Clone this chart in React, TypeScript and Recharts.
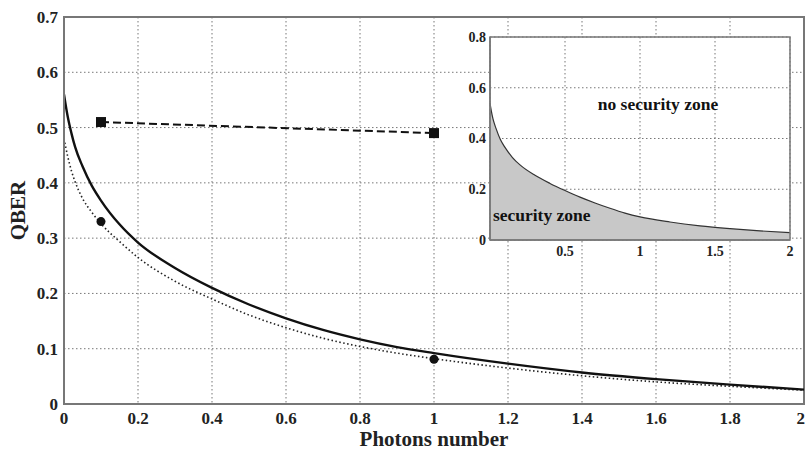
import React from 'react';
import {
  ComposedChart, Line, Scatter, XAxis, YAxis, CartesianGrid, ReferenceArea, ReferenceDot, AreaChart, Area,
} from 'recharts';

// Main chart: photons number (x) vs QBER
const photons = [0, 0.01, 0.02, 0.03, 0.05, 0.075, 0.1, 0.15, 0.2, 0.3, 0.4, 0.5, 0.6, 0.7, 0.8, 0.9, 1.0, 1.2, 1.4, 1.6, 1.8, 2.0];
const qberSolid = [0.56, 0.52, 0.49, 0.465, 0.43, 0.395, 0.368, 0.325, 0.292, 0.246, 0.21, 0.18, 0.155, 0.134, 0.117, 0.103, 0.092, 0.073, 0.057, 0.045, 0.035, 0.026];
const qberDotted = [0.48, 0.448, 0.422, 0.402, 0.372, 0.347, 0.326, 0.294, 0.265, 0.222, 0.19, 0.161, 0.138, 0.119, 0.104, 0.092, 0.082, 0.065, 0.051, 0.04, 0.032, 0.025];

const squareX = [0.1, 1];
const squareY = [0.51, 0.49];
const circleX = [0.1, 1];
const circleY = [0.33, 0.081];

const xTicks = [0, 0.2, 0.4, 0.6, 0.8, 1, 1.2, 1.4, 1.6, 1.8, 2];
const yTicks = [0, 0.1, 0.2, 0.3, 0.4, 0.5, 0.6, 0.7];

// Inset: security zone
const insetX = [0, 0.01, 0.02, 0.04, 0.07, 0.1, 0.15, 0.2, 0.3, 0.4, 0.5, 0.6, 0.7, 0.8, 0.9, 1.0, 1.2, 1.4, 1.6, 1.8, 2.0];
const insetY = [0.54, 0.505, 0.477, 0.44, 0.395, 0.365, 0.325, 0.296, 0.255, 0.223, 0.195, 0.169, 0.146, 0.125, 0.106, 0.091, 0.071, 0.056, 0.045, 0.036, 0.029];
const insetXTicks = [0.5, 1, 1.5, 2];
const insetYTicks = [0, 0.2, 0.4, 0.6, 0.8];

const mainData = photons.map((x, i) => ({ x, solid: qberSolid[i], dotted: qberDotted[i] }));
const squareData = squareX.map((x, i) => ({ x, y: squareY[i] }));
const circleData = circleX.map((x, i) => ({ x, y: circleY[i] }));
const insetData = insetX.map((x, i) => ({ x, y: insetY[i] }));

const FONT = '"Liberation Serif", "Times New Roman", serif';
const tickStyle = { fontFamily: FONT, fontWeight: 700, fontSize: 17, fill: '#222' };
const insetTickStyle = { fontFamily: FONT, fontWeight: 700, fontSize: 14, fill: '#222' };

const SquareDot = (props: any) => {
  const { cx, cy } = props;
  if (cx == null || cy == null) return null;
  return <rect x={cx - 5} y={cy - 5} width={10} height={10} fill="#111" />;
};

const CircleShape = (props: any) => {
  const { cx, cy } = props;
  if (cx == null || cy == null) return null;
  return <circle cx={cx} cy={cy} r={4.5} fill="#111" />;
};

export default function App() {
  return (
    <div style={{ position: 'absolute', left: 0, top: 0, width: 805, height: 450, background: '#fff' }}>
      <div style={{ position: 'absolute', left: 0, top: 0 }}>
        <ComposedChart width={805} height={450} data={mainData} margin={{ top: 17, right: 1, bottom: 0, left: 0 }}>
          <CartesianGrid stroke="#777" strokeDasharray="1.5 2.5" strokeWidth={1} />
          <XAxis
            dataKey="x"
            type="number"
            domain={[0, 2]}
            ticks={xTicks}
            height={46}
            tick={tickStyle}
            tickLine={false}
            axisLine={{ stroke: '#777', strokeWidth: 2 }}
            tickSize={6}
            tickMargin={2}
            allowDataOverflow
            label={{ value: 'Photons number', position: 'insideBottom', offset: 4, style: { fontFamily: FONT, fontWeight: 700, fontSize: 21, fill: '#222' } }}
          />
          <YAxis
            type="number"
            domain={[0, 0.7]}
            ticks={yTicks}
            width={64}
            tick={tickStyle}
            tickLine={false}
            axisLine={{ stroke: '#777', strokeWidth: 2 }}
            tickSize={4}
            tickMargin={2}
            allowDataOverflow
            label={{ value: 'QBER', angle: -90, position: 'center', dx: -14, style: { fontFamily: FONT, fontWeight: 700, fontSize: 21, fill: '#222' } }}
          />
          <ReferenceArea x1={0} x2={2} y1={0} y2={0.7} fill="none" stroke="#777" strokeWidth={2} />
          <Line dataKey="dotted" type="monotone" stroke="#222" strokeWidth={1.6} strokeDasharray="1.5 2.5" dot={false} isAnimationActive={false} />
          <Line dataKey="solid" type="monotone" stroke="#111" strokeWidth={2.4} dot={false} isAnimationActive={false} />
          <Line data={squareData} dataKey="y" type="linear" stroke="#111" strokeWidth={2} strokeDasharray="8 4" dot={<SquareDot />} isAnimationActive={false} />
          <Scatter data={circleData} dataKey="y" shape={<CircleShape />} isAnimationActive={false} />
        </ComposedChart>
      </div>
      <div style={{ position: 'absolute', left: 450, top: 20 }}>
        <AreaChart width={355} height={250} data={insetData} margin={{ top: 17, right: 15, bottom: 5, left: 0 }}>
          <CartesianGrid stroke="#777" strokeDasharray="1.5 2.5" fill="#fff" fillOpacity={1} />
          <XAxis
            dataKey="x"
            type="number"
            domain={[0, 2]}
            ticks={insetXTicks}
            height={25}
            tick={insetTickStyle}
            tickLine={false}
            axisLine={{ stroke: '#777', strokeWidth: 1.5 }}
            tickSize={4}
            tickMargin={2}
          />
          <YAxis
            type="number"
            domain={[0, 0.8]}
            ticks={insetYTicks}
            width={40}
            tick={insetTickStyle}
            tickLine={false}
            axisLine={{ stroke: '#777', strokeWidth: 1.5 }}
            tickSize={2}
            tickMargin={2}
          />
          <Area dataKey="y" type="monotone" stroke="#333" strokeWidth={1.2} fill="#c8c8c8" fillOpacity={1} isAnimationActive={false} />
          <ReferenceArea x1={0} x2={2} y1={0} y2={0.8} fill="none" stroke="#777" strokeWidth={1.5} />
          <ReferenceDot x={1.12} y={0.535} r={0} fill="none" stroke="none"
            label={{ value: 'no security zone', position: 'center', style: { fontFamily: FONT, fontWeight: 700, fontSize: 17.5, fill: '#111' } }} />
          <ReferenceDot x={0.345} y={0.1} r={0} fill="none" stroke="none"
            label={{ value: 'security zone', position: 'center', style: { fontFamily: FONT, fontWeight: 700, fontSize: 17.5, fill: '#111' } }} />
        </AreaChart>
      </div>
    </div>
  );
}
